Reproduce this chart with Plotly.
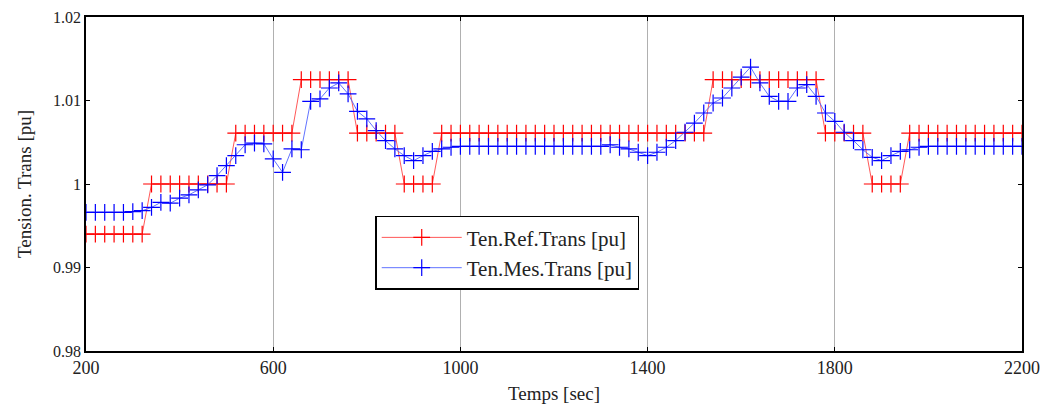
import plotly.graph_objects as go

time_s = [200, 220, 240, 260, 280, 300, 320, 340, 360, 380,
          400, 420, 440, 460, 480, 500, 520, 540, 560, 580,
          600, 620, 640, 660, 680, 700, 720, 740, 760, 780,
          800, 820, 840, 860, 880, 900, 920, 940, 960, 980,
          1000, 1020, 1040, 1060, 1080, 1100, 1120, 1140, 1160, 1180,
          1200, 1220, 1240, 1260, 1280, 1300, 1320, 1340, 1360, 1380,
          1400, 1420, 1440, 1460, 1480, 1500, 1520, 1540, 1560, 1580,
          1600, 1620, 1640, 1660, 1680, 1700, 1720, 1740, 1760, 1780,
          1800, 1820, 1840, 1860, 1880, 1900, 1920, 1940, 1960, 1980,
          2000, 2020, 2040, 2060, 2080, 2100, 2120, 2140, 2160, 2180,
          2200]

ten_ref = [0.994, 0.994, 0.994, 0.994, 0.994, 0.994, 0.994, 1.0, 1.0, 1.0,
           1.0, 1.0, 1.0, 1.0, 1.0, 1.0, 1.0061, 1.0061, 1.0061, 1.0061,
           1.0061, 1.0061, 1.0061, 1.0125, 1.0125, 1.0125, 1.0125, 1.0125, 1.0125, 1.0061,
           1.0061, 1.0061, 1.0061, 1.0061, 1.0, 1.0, 1.0, 1.0, 1.0061, 1.0061,
           1.0061, 1.0061, 1.0061, 1.0061, 1.0061, 1.0061, 1.0061, 1.0061, 1.0061, 1.0061,
           1.0061, 1.0061, 1.0061, 1.0061, 1.0061, 1.0061, 1.0061, 1.0061, 1.0061, 1.0061,
           1.0061, 1.0061, 1.0061, 1.0061, 1.0061, 1.0061, 1.0061, 1.0125, 1.0125, 1.0125,
           1.0125, 1.0125, 1.0125, 1.0125, 1.0125, 1.0125, 1.0125, 1.0125, 1.0125, 1.0061,
           1.0061, 1.0061, 1.0061, 1.0061, 1.0, 1.0, 1.0, 1.0, 1.0061, 1.0061,
           1.0061, 1.0061, 1.0061, 1.0061, 1.0061, 1.0061, 1.0061, 1.0061, 1.0061, 1.0061,
           1.0061]

ten_mes = [0.9966, 0.9966, 0.9966, 0.9966, 0.9966, 0.9967, 0.9968, 0.9972, 0.9978, 0.9977,
           0.9983, 0.9987, 0.9993, 0.9999, 1.0010, 1.0022, 1.0034, 1.0047, 1.0049, 1.0048,
           1.0030, 1.0014, 1.0042, 1.0041, 1.0099, 1.0102, 1.0115, 1.0121, 1.0108, 1.0087,
           1.0078, 1.0064, 1.0052, 1.0042, 1.0034, 1.0028, 1.0034, 1.0039, 1.0042, 1.0044,
           1.0045, 1.0045, 1.0045, 1.0045, 1.0045, 1.0045, 1.0045, 1.0045, 1.0045, 1.0045,
           1.0045, 1.0045, 1.0045, 1.0045, 1.0045, 1.0045, 1.0047, 1.0044, 1.0042, 1.0038,
           1.0034, 1.0038, 1.0044, 1.0052, 1.0062, 1.0073, 1.0085, 1.0097, 1.0103, 1.0115,
           1.0128, 1.0140, 1.0121, 1.0105, 1.0099, 1.0099, 1.0115, 1.0119, 1.0105, 1.0085,
           1.0075, 1.0062, 1.0052, 1.0041, 1.0032, 1.0028, 1.0034, 1.0039, 1.0041, 1.0044,
           1.0045, 1.0045, 1.0045, 1.0045, 1.0045, 1.0045, 1.0045, 1.0045, 1.0045, 1.0045,
           1.0045]

x_ticks = [200, 600, 1000, 1400, 1800, 2200]
y_ticks = [0.98, 0.99, 1.0, 1.01, 1.02]
y_tick_labels = ["0.98", "0.99", "1", "1.01", "1.02"]

FONT = "Liberation Serif, Times New Roman, serif"

fig = go.Figure()
fig.add_trace(go.Scatter(
    x=time_s, y=ten_ref, mode="lines+markers", name="Ten.Ref.Trans [pu]",
    line=dict(color="rgba(255,70,70,0.9)", width=1),
    marker=dict(symbol="cross-thin", size=12, line=dict(color="#ff0000", width=1.2), color="#ff0000"),
))
fig.add_trace(go.Scatter(
    x=time_s, y=ten_mes, mode="lines+markers", name="Ten.Mes.Trans [pu]",
    line=dict(color="rgba(80,100,255,0.9)", width=1),
    marker=dict(symbol="cross-thin", size=12, line=dict(color="#0000ff", width=1.2), color="#0000ff"),
))

fig.update_layout(
    width=1032, height=396,
    margin=dict(l=78, r=18, t=9, b=53),
    paper_bgcolor="white", plot_bgcolor="white",
    font=dict(family=FONT, size=16, color="#222222"),
    showlegend=True,
    legend=dict(
        x=0.309, y=0.405, xanchor="left", yanchor="top",
        bordercolor="black", borderwidth=1.5, bgcolor="white",
        font=dict(family=FONT, size=21, color="#222222"),
        tracegroupgap=0, itemwidth=80,
    ),
    xaxis=dict(
        range=[200, 2200], tickvals=x_ticks, ticktext=[str(v) for v in x_ticks],
        showgrid=True, gridcolor="#b0b0b0", gridwidth=1,
        showline=True, linecolor="black", linewidth=1.5, mirror="ticks",
        ticks="inside", ticklen=4, tickcolor="black", zeroline=False,
        title=dict(text="Temps [sec]", font=dict(family=FONT, size=19), standoff=16),
        tickfont=dict(family=FONT, size=18),
        automargin=False, ticklabeloverflow="allow",
    ),
    yaxis=dict(
        range=[0.98, 1.02], tickvals=y_ticks, ticktext=y_tick_labels,
        showgrid=False,
        showline=True, linecolor="black", linewidth=1.5, mirror="ticks",
        ticks="inside", ticklen=4, tickcolor="black", zeroline=False,
        title=dict(text="Tension. Trans [pu]", font=dict(family=FONT, size=19), standoff=16),
        tickfont=dict(family=FONT, size=16),
        automargin=False, ticklabeloverflow="allow",
    ),
)

fig.write_html("out.html")
